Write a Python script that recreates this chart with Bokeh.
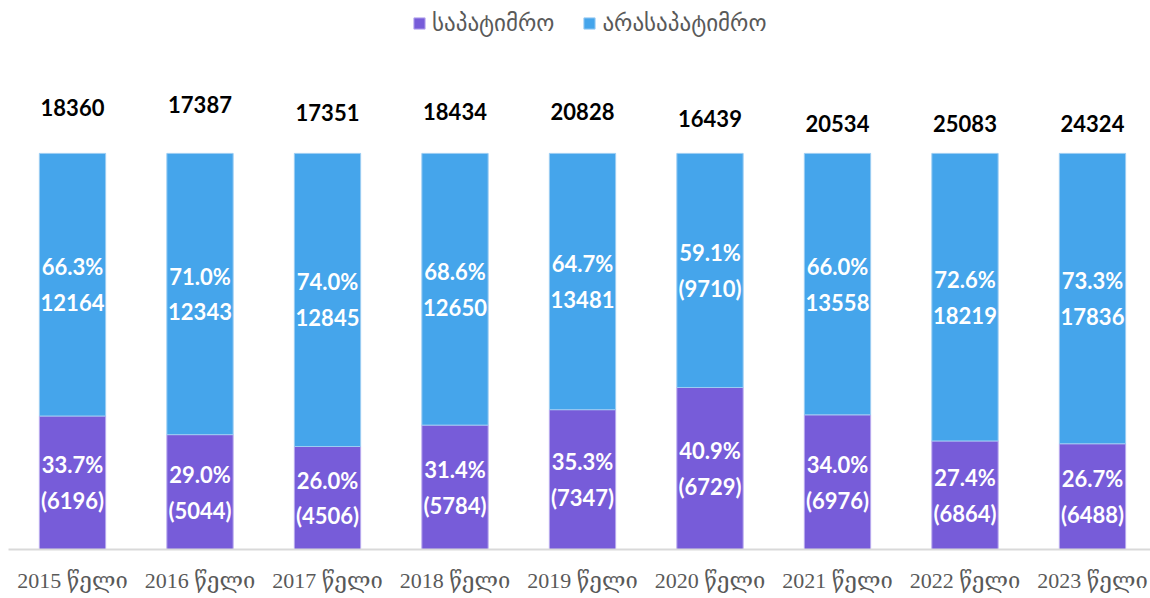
from bokeh.plotting import figure
from bokeh.models import ColumnDataSource, Range1d, FixedTicker, Legend, LegendItem
from bokeh.core.properties import value
from bokeh.embed import file_html
from bokeh.resources import INLINE

# ---- data ----
years = [2015, 2016, 2017, 2018, 2019, 2020, 2021, 2022, 2023]
totals = [18360, 17387, 17351, 18434, 20828, 16439, 20534, 25083, 24324]
pct_excused = [33.7, 29.0, 26.0, 31.4, 35.3, 40.9, 34.0, 27.4, 26.7]
pct_unexcused = [66.3, 71.0, 74.0, 68.6, 64.7, 59.1, 66.0, 72.6, 73.3]
cnt_excused = ["(6196)", "(5044)", "(4506)", "(5784)", "(7347)", "(6729)", "(6976)", "(6864)", "(6488)"]
cnt_unexcused = ["12164", "12343", "12845", "12650", "13481", "(9710)", "13558", "18219", "17836"]
series_names = ["საპატიმრო", "არასაპატიმრო"]
year_suffix = " წელი"

# ---- layout helpers (positions, not data) ----
total_label_y = [111.6, 112.3, 110.4, 110.6, 110.6, 108.8, 107.6, 107.6, 107.6]

PURPLE = "#775CD9"
BLUE = "#45A5EB"

x = list(range(len(years)))
src = ColumnDataSource(dict(
    x=x,
    a=pct_excused,
    b_top=[pa + pb for pa, pb in zip(pct_excused, pct_unexcused)],
    a_mid=[pa / 2 for pa in pct_excused],
    b_mid=[pa + pb / 2 for pa, pb in zip(pct_excused, pct_unexcused)],
    a_lab=[f"{p:.1f}%\n{c}" for p, c in zip(pct_excused, cnt_excused)],
    b_lab=[f"{p:.1f}%\n{c}" for p, c in zip(pct_unexcused, cnt_unexcused)],
    tot=[str(t) for t in totals],
    tot_y=total_label_y,
))

p = figure(width=1150, height=598, output_backend="svg", toolbar_location=None,
           x_range=Range1d(-0.502, 8.455), y_range=Range1d(0, 138.6),
           min_border_left=8, min_border_right=0, min_border_top=0, min_border_bottom=49)
p.outline_line_color = None
p.background_fill_color = None
p.border_fill_color = None
p.grid.visible = False
p.yaxis.visible = False

r1 = p.vbar(x="x", bottom=0, top="a", width=0.52, source=src,
            fill_color=PURPLE, line_color="#B9AAEE", line_width=1)
r2 = p.vbar(x="x", bottom="a", top="b_top", width=0.52, source=src,
            fill_color=BLUE, line_color="#9CCDF3", line_width=1)

common = dict(text_font=value("Lato"), text_font_style="bold", text_font_size="22px",
              text_align="center", text_baseline="middle", text_line_height=1.33)
p.text(x="x", y="a_mid", text="a_lab", source=src, text_color="white", **common)
p.text(x="x", y="b_mid", text="b_lab", source=src, text_color="white", **common)
p.text(x="x", y="tot_y", text="tot", source=src, text_color="black",
       text_font=value("Lato"), text_font_style="bold", text_font_size="22px",
       text_align="center", text_baseline="middle")

ax = p.xaxis[0]
ax.ticker = FixedTicker(ticks=x)
ax.major_label_overrides = {i: f"{y}{year_suffix}" for i, y in enumerate(years)}
ax.major_label_text_font = "'Liberation Serif', 'DejaVu Serif', serif"
ax.major_label_text_font_size = "22px"
ax.major_label_text_color = "#595959"
ax.major_label_standoff = 12
ax.major_tick_line_color = None
ax.minor_tick_line_color = None
ax.axis_line_color = "#D9D9D9"
ax.axis_line_width = 2

legend = Legend(items=[LegendItem(label=series_names[0], renderers=[r1]),
                       LegendItem(label=series_names[1], renderers=[r2])],
                location=(404, 513), orientation="horizontal",
                glyph_width=14, glyph_height=14, spacing=28, label_standoff=6,
                label_text_font="DejaVu Sans", label_text_font_size="23px",
                label_text_color="#595959", border_line_color=None,
                background_fill_alpha=0, margin=0, padding=2)
p.add_layout(legend, "center")

open("out.html", "w").write(file_html(p, INLINE))
